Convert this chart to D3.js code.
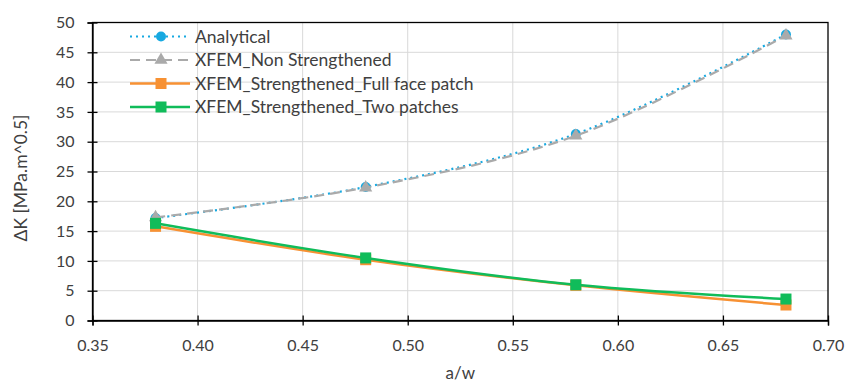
<!DOCTYPE html>
<html>
<head>
<meta charset="utf-8">
<script src="https://cdn.jsdelivr.net/npm/d3@7"></script>
<style>
  body { margin: 0; background: #fff; }
  text { font-family: Lato, "Open Sans", sans-serif; }
</style>
</head>
<body>
<div id="chart"></div>
<script>
const aw = [0.38, 0.48, 0.58, 0.68];
const analytical = [17.2, 22.4, 31.3, 48.0];
const nonStrengthened = [17.3, 22.3, 31.0, 47.8];
const fullFace = [15.8, 10.2, 5.9, 2.6];
const twoPatches = [16.3, 10.5, 6.0, 3.6];
const xTicks = [0.35, 0.40, 0.45, 0.50, 0.55, 0.60, 0.65, 0.70];
const yTicks = [0, 5, 10, 15, 20, 25, 30, 35, 40, 45, 50];

const series = [
  {name: "Analytical", values: analytical, color: "#17a9e1", dash: "2,4", marker: "circle"},
  {name: "XFEM_Non Strengthened", values: nonStrengthened, color: "#aaaaaa", dash: "10,6", marker: "triangle"},
  {name: "XFEM_Strengthened_Full face patch", values: fullFace, color: "#f79133", dash: null, marker: "square"},
  {name: "XFEM_Strengthened_Two patches", values: twoPatches, color: "#10bc5a", dash: null, marker: "square"}
];

const width = 847, height = 386;
const margin = {top: 22.5, right: 19, bottom: 65.5, left: 92.5};

const svg = d3.select("#chart").append("svg")
    .attr("width", width)
    .attr("height", height);

const x = d3.scaleLinear().domain([0.35, 0.70]).range([margin.left, width - margin.right]);
const y = d3.scaleLinear().domain([0, 50]).range([height - margin.bottom, margin.top]);

// grid
svg.append("g")
  .selectAll("line")
  .data(yTicks.slice(1, -1))
  .join("line")
    .attr("x1", x(0.35)).attr("x2", x(0.70))
    .attr("y1", d => y(d)).attr("y2", d => y(d))
    .attr("stroke", "#d9d9d9").attr("stroke-width", 1);
svg.append("g")
  .selectAll("line")
  .data(xTicks.slice(1, -1))
  .join("line")
    .attr("y1", y(0)).attr("y2", y(50))
    .attr("x1", d => x(d)).attr("x2", d => x(d))
    .attr("stroke", "#d9d9d9").attr("stroke-width", 1);

// frame
svg.append("rect")
    .attr("x", x(0.35)).attr("y", y(50))
    .attr("width", x(0.70) - x(0.35)).attr("height", y(0) - y(50))
    .attr("fill", "none").attr("stroke", "#000").attr("stroke-width", 1.3);

// axes, ticks cross the axis line
svg.append("g")
    .attr("transform", `translate(0,${y(0)})`)
    .call(d3.axisBottom(x).tickValues(xTicks).tickFormat(d3.format(".2f")).tickSize(5).tickPadding(14))
    .call(g => g.select(".domain").attr("stroke-width", 1.3))
    .call(g => g.selectAll(".tick line").attr("y1", -5).attr("stroke-width", 1.3))
    .call(g => g.selectAll("text").attr("font-size", 16).attr("fill", "#404040"));

svg.append("g")
    .attr("transform", `translate(${x(0.35)},0)`)
    .call(d3.axisLeft(y).tickValues(yTicks).tickSize(5).tickPadding(13))
    .call(g => g.select(".domain").attr("stroke-width", 1.3))
    .call(g => g.selectAll(".tick line").attr("x1", 5).attr("stroke-width", 1.3))
    .call(g => g.selectAll("text").attr("font-size", 16).attr("fill", "#404040"));

svg.append("text")
    .attr("x", (x(0.35) + x(0.70)) / 2)
    .attr("y", 379)
    .attr("text-anchor", "middle")
    .attr("font-size", 17)
    .attr("fill", "#404040")
    .text("a/w");

svg.append("text")
    .attr("transform", "translate(27,178) rotate(-90)")
    .attr("text-anchor", "middle")
    .attr("font-size", 17.5)
    .attr("fill", "#404040")
    .text("ΔK [MPa.m^0.5]");

const line = d3.line()
    .x((d, i) => x(aw[i]))
    .y(d => y(d))
    .curve(d3.curveCatmullRom.alpha(0.5));

function marker(g, type, color, cx, cy) {
  if (type === "circle") {
    g.append("circle").attr("cx", cx).attr("cy", cy).attr("r", 5).attr("fill", color);
  } else if (type === "triangle") {
    g.append("path")
      .attr("d", d3.symbol().type(d3.symbolTriangle).size(75)())
      .attr("transform", `translate(${cx},${cy})`)
      .attr("fill", color);
  } else {
    g.append("rect").attr("x", cx - 5.5).attr("y", cy - 5.5).attr("width", 11).attr("height", 11).attr("fill", color);
  }
}

const plot = svg.append("g");
series.forEach(s => {
  plot.append("path")
      .attr("d", line(s.values))
      .attr("fill", "none")
      .attr("stroke", s.color)
      .attr("stroke-width", s.dash ? 2.2 : 2.5)
      .attr("stroke-dasharray", s.dash);
  s.values.forEach((v, i) => marker(plot, s.marker, s.color, x(aw[i]), y(v)));
});

// legend
const legend = svg.append("g");
series.forEach((s, i) => {
  const ly = 36.5 + i * 23.5;
  legend.append("line")
      .attr("x1", 130).attr("x2", 190)
      .attr("y1", ly).attr("y2", ly)
      .attr("stroke", s.color)
      .attr("stroke-width", s.dash ? 2.2 : 2.5)
      .attr("stroke-dasharray", s.dash);
  marker(legend, s.marker, s.color, 161, ly);
  legend.append("text")
      .attr("x", 195).attr("y", ly)
      .attr("dy", "0.35em")
      .attr("font-size", 17.5)
      .attr("fill", "#404040")
      .text(s.name);
});
</script>
</body>
</html>
